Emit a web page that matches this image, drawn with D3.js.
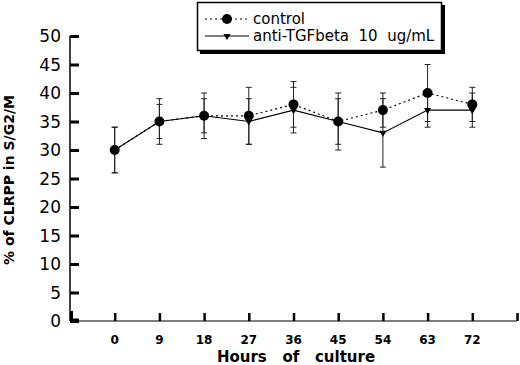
<!DOCTYPE html>
<html>
<head>
<meta charset="utf-8">
<script src="https://cdn.jsdelivr.net/npm/d3@7"></script>
<style>
  body { margin: 0; background: #fff; }
  svg { font-family: "DejaVu Sans", sans-serif; }
</style>
</head>
<body>
<div id="chart"></div>
<script>
// data
const hours = [0, 9, 18, 27, 36, 45, 54, 63, 72]
const control = [30, 35, 36, 36, 38, 35, 37, 40, 38]
const controlErr = [4, 4, 4, 5, 4, 5, 3, 5, 3]
const antiTGF = [30, 35, 36, 35, 37, 35, 33, 37, 37]
const antiErr = [4, 3, 3, 4, 4, 4, 6, 3, 3]
const yTicks = [0, 5, 10, 15, 20, 25, 30, 35, 40, 45, 50]
const xTicks = [0, 9, 18, 27, 36, 45, 54, 63, 72, 81]

const W = 520, H = 365
const margin = { top: 36, right: 3, bottom: 44, left: 70 }
const width = W - margin.left - margin.right
const height = H - margin.top - margin.bottom

const svg = d3.select("#chart")
  .append("svg")
  .attr("width", W)
  .attr("height", H)

const g = svg.append("g")
  .attr("transform", "translate(" + margin.left + "," + margin.top + ")")

const x = d3.scaleLinear().domain([-9, 81]).range([0, width])
const y = d3.scaleLinear().domain([0, 50]).range([height, 0])

// y axis
const yAxis = d3.axisRight(y)
  .tickValues(yTicks)
  .tickSize(9)
  .tickFormat("")
g.append("g")
  .attr("class", "y axis")
  .call(yAxis)
  .call(a => a.select(".domain").attr("d", "M0," + y(50) + "V" + height).style("stroke-width", 1.5))
  .call(a => a.selectAll(".tick line").style("stroke-width", 3))

g.selectAll(".ylab")
  .data(yTicks)
  .enter().append("text")
  .attr("class", "ylab")
  .attr("x", -9)
  .attr("y", d => y(d))
  .attr("dy", "0.36em")
  .style("text-anchor", "end")
  .style("font-size", "17px")
  .text(d => d)

// x axis
const xAxis = d3.axisTop(x)
  .tickValues(xTicks)
  .tickSize(8)
  .tickFormat("")
g.append("g")
  .attr("class", "x axis")
  .attr("transform", "translate(0," + height + ")")
  .call(xAxis)
  .call(a => a.select(".domain").attr("d", "M0,0H" + width).style("stroke-width", 1.2))
  .call(a => a.selectAll(".tick line").style("stroke-width", 2.5))

g.selectAll(".xlab")
  .data(hours)
  .enter().append("text")
  .attr("class", "xlab")
  .attr("x", d => x(d))
  .attr("y", height + 23)
  .style("text-anchor", "middle")
  .style("font-size", "12px")
  .style("font-weight", "bold")
  .text(d => d)

// corner mark at origin
g.append("path")
  .attr("d", "M1.5," + (height - 10) + "V" + (height - 1) + "H9")
  .style("fill", "none")
  .style("stroke", "#000")
  .style("stroke-width", 3)

// axis titles
svg.append("text")
  .attr("x", 296)
  .attr("y", 362)
  .style("text-anchor", "middle")
  .style("font-size", "15px")
  .style("font-weight", "bold")
  .attr("xml:space", "preserve")
  .text("Hours   of   culture")

svg.append("text")
  .attr("transform", "translate(14,180) rotate(-90)")
  .style("text-anchor", "middle")
  .style("font-size", "14px")
  .style("font-weight", "bold")
  .text("% of CLRPP in S/G2/M")

// error bars
function errorBars(vals, errs, cls) {
  const data = hours.map((h, i) => ({ h: h, v: vals[i], e: errs[i] }))
  const eb = g.selectAll("." + cls)
    .data(data)
    .enter().append("g")
    .attr("class", cls)
  eb.append("line")
    .attr("x1", d => x(d.h)).attr("x2", d => x(d.h))
    .attr("y1", d => y(d.v - d.e)).attr("y2", d => y(d.v + d.e))
    .style("stroke", "#222").style("stroke-width", 1)
  eb.selectAll("line.cap")
    .data(d => [[d.h, d.v - d.e], [d.h, d.v + d.e]])
    .enter().append("line")
    .attr("class", "cap")
    .attr("x1", d => x(d[0]) - 3).attr("x2", d => x(d[0]) + 3)
    .attr("y1", d => y(d[1])).attr("y2", d => y(d[1]))
    .style("stroke", "#222").style("stroke-width", 1)
}
errorBars(control, controlErr, "err-control")
errorBars(antiTGF, antiErr, "err-anti")

const line = d3.line()
  .x(d => x(d[0]))
  .y(d => y(d[1]))

g.append("path")
  .datum(hours.map((h, i) => [h, control[i]]))
  .attr("d", line)
  .style("fill", "none")
  .style("stroke", "#000")
  .style("stroke-width", 1.2)
  .style("stroke-dasharray", "2 3")

g.append("path")
  .datum(hours.map((h, i) => [h, antiTGF[i]]))
  .attr("d", line)
  .style("fill", "none")
  .style("stroke", "#000")
  .style("stroke-width", 1.1)

const triangle = d3.symbol().type(d3.symbolTriangle).size(22)

g.selectAll(".tri")
  .data(hours.map((h, i) => [h, antiTGF[i]]))
  .enter().append("path")
  .attr("class", "tri")
  .attr("d", triangle)
  .attr("transform", d => "translate(" + x(d[0]) + "," + y(d[1]) + ") rotate(180)")
  .style("fill", "#000")

g.selectAll(".dot")
  .data(hours.map((h, i) => [h, control[i]]))
  .enter().append("circle")
  .attr("class", "dot")
  .attr("cx", d => x(d[0]))
  .attr("cy", d => y(d[1]))
  .attr("r", 5)
  .style("fill", "#000")

// legend with drop shadow
const leg = svg.append("g")
leg.append("rect")
  .attr("x", 200).attr("y", 5).attr("width", 245).attr("height", 49)
  .style("fill", "#000")
leg.append("rect")
  .attr("x", 197.5).attr("y", 2.5).attr("width", 244).attr("height", 48)
  .style("fill", "#fff")
  .style("stroke", "#000")
  .style("stroke-width", 1.5)

leg.append("line")
  .attr("x1", 205).attr("x2", 249).attr("y1", 19).attr("y2", 19)
  .style("stroke", "#000").style("stroke-width", 1.2).style("stroke-dasharray", "2 3")
leg.append("circle")
  .attr("cx", 227).attr("cy", 19).attr("r", 5)
  .style("fill", "#000")
leg.append("line")
  .attr("x1", 205).attr("x2", 249).attr("y1", 36).attr("y2", 36)
  .style("stroke", "#000").style("stroke-width", 1.1)
leg.append("path")
  .attr("d", triangle)
  .attr("transform", "translate(227,36) rotate(180)")
  .style("fill", "#000")

leg.append("text")
  .attr("x", 253).attr("y", 19).attr("dy", "0.35em")
  .style("font-size", "15px")
  .text("control")
leg.append("text")
  .attr("x", 253).attr("y", 36).attr("dy", "0.35em")
  .style("font-size", "15px")
  .attr("xml:space", "preserve")
  .text("anti-TGFbeta  10  ug/mL")
</script>
</body>
</html>
